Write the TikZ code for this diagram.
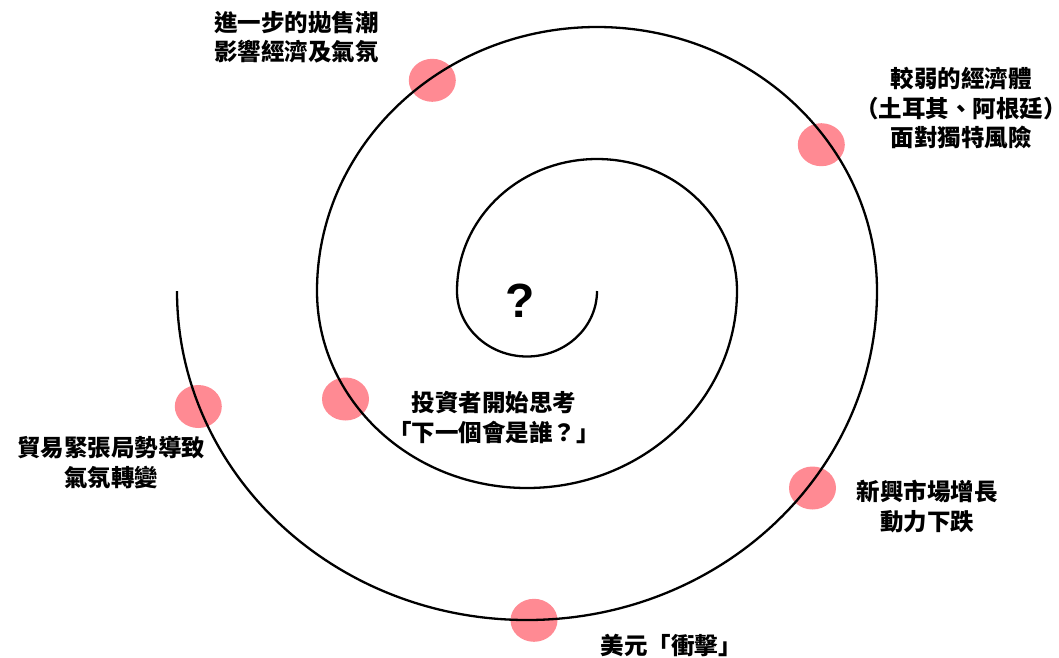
\documentclass[tikz,border=0pt]{standalone}
\usepackage{fontspec}
\setmainfont{Liberation Sans}
\newfontfamily\cjk{Noto Sans CJK TC}
\definecolor{dotpink}{RGB}{255,138,147}
\begin{document}
\begin{tikzpicture}[x=1pt,y=1pt,
  lbl/.style={align=center,inner sep=0pt,font=\cjk\bfseries\fontsize{23.5}{29.5}\selectfont},
  spiral/.style={line width=2.3pt,black}]
\useasboundingbox (0,0) rectangle (1059,-657);
% markers
\fill[dotpink] (198.3,-406.5) ellipse [x radius=23.5, y radius=21.5];
\fill[dotpink] (345.5,-399) ellipse [x radius=23.5, y radius=21.5];
\fill[dotpink] (812.5,-488) ellipse [x radius=23.5, y radius=21.5];
\fill[dotpink] (534,-620.3) ellipse [x radius=23.5, y radius=21.5];
\fill[dotpink] (432.3,-80.3) ellipse [x radius=23.5, y radius=21.5];
\fill[dotpink] (821.3,-144.7) ellipse [x radius=23.5, y radius=21.5];
% spiral
\draw[spiral] (597,-291)
  arc[start angle=0, end angle=-180, x radius=70, y radius=65.5]
  arc[start angle=180, end angle=0, x radius=140, y radius=132]
  arc[start angle=0, end angle=-180, x radius=210, y radius=197]
  arc[start angle=180, end angle=0, x radius=280, y radius=264]
  arc[start angle=0, end angle=-180, x radius=350, y radius=329];
% labels
\node[lbl] (t1) at (296.5,-37) {進一步的拋售潮\\影響經濟及氣氛};
\node[lbl] (t2) at (961,-108) {較弱的經濟體\\\makebox[0.55em][r]{（}土耳其、阿根廷\makebox[0.55em][l]{）}\\面對獨特風險};
\node[lbl] (t3) at (111,-462.5) {貿易緊張局勢導致\\氣氛轉變};
\node[lbl] (t4) at (494,-417.5) {投資者開始思考\\「下一個會是誰？」};
\node[lbl] (t5) at (927,-506.5) {新興市場增長\\動力下跌};
\node[lbl] (t6) at (671,-645) {美元「衝擊」};
\node[inner sep=0pt,font=\bfseries\fontsize{48}{48}\selectfont] (q) at (520.5,-300.5) {?};
\end{tikzpicture}
\end{document}
